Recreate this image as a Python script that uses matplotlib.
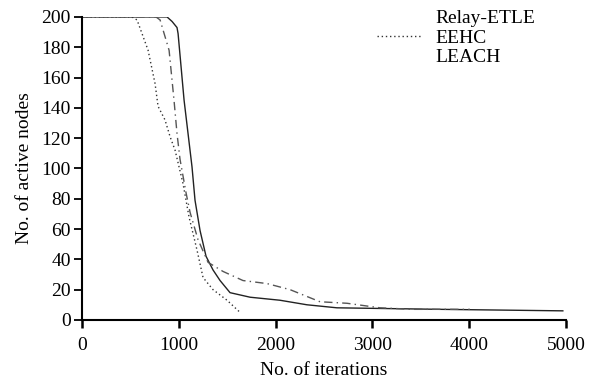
import matplotlib.pyplot as plt

plt.rcParams['font.family'] = ['Liberation Serif', 'DejaVu Serif']

# Relay-ETLE (solid)
relay_x = [0, 878, 930, 981, 992, 1054, 1136, 1167, 1219, 1281, 1353, 1426, 1529,
           1736, 2045, 2324, 2634, 3698, 4969]
relay_y = [200, 200, 197, 193, 189, 145, 101, 79, 59, 42, 33, 26, 18,
           15, 13, 10, 8, 7, 6]

# EEHC (dotted)
eehc_x = [0, 516, 568, 682, 754, 785, 857, 909, 961, 1043, 1105, 1188, 1250,
          1353, 1498, 1632]
eehc_y = [200, 200, 198, 178, 156, 141, 132, 121, 112, 90, 68, 46, 28,
          20, 13, 5]

# LEACH (dash-dot)
leach_x = [0, 764, 806, 899, 950, 981, 1012, 1074, 1116, 1198, 1302, 1457, 1663,
           1911, 2149, 2459, 2738, 3079, 3420, 4008]
leach_y = [200, 200, 198, 178, 145, 123, 106, 84, 71, 53, 38, 32, 26,
           24, 20, 12, 11, 8, 7, 7]

fig = plt.figure(figsize=(5.95, 3.85), dpi=100)
ax = fig.add_axes([0.138, 0.169, 0.813, 0.787])

ax.plot(relay_x, relay_y, color='#222222', lw=1.0, ls='-', label='Relay-ETLE')
ax.plot(eehc_x, eehc_y, color='#333333', lw=1.0, ls=(0, (1, 2)), label='EEHC')
ax.plot(leach_x, leach_y, color='#555555', lw=1.0, ls=(0, (6, 3, 1, 3)), label='LEACH')

ax.set_xlim(0, 5000)
ax.set_ylim(0, 200)
ax.set_xticks(range(0, 5001, 1000))
ax.set_yticks(range(0, 201, 20))
for s in ['top', 'right']:
    ax.spines[s].set_visible(False)
for s in ['left', 'bottom']:
    ax.spines[s].set_linewidth(1.5)
ax.tick_params(axis='x', direction='out', length=6, width=1.8, labelsize=14, pad=6)
ax.tick_params(axis='y', direction='out', length=6, width=1.3, labelsize=14, pad=2)

ax.set_xlabel('No. of iterations', fontsize=14, labelpad=6)
ax.set_ylabel('No. of active nodes', fontsize=14, labelpad=6)

leg = ax.legend(loc='upper left', bbox_to_anchor=(0.605, 1.021),
                bbox_transform=fig.transFigure, frameon=False,
                fontsize=14, handlelength=2.3, handletextpad=0.7,
                labelspacing=0.1, borderpad=0.4)
leg.get_lines()[0].set_visible(False)
leg.get_lines()[2].set_visible(False)

fig.savefig('out.png', dpi=100)
